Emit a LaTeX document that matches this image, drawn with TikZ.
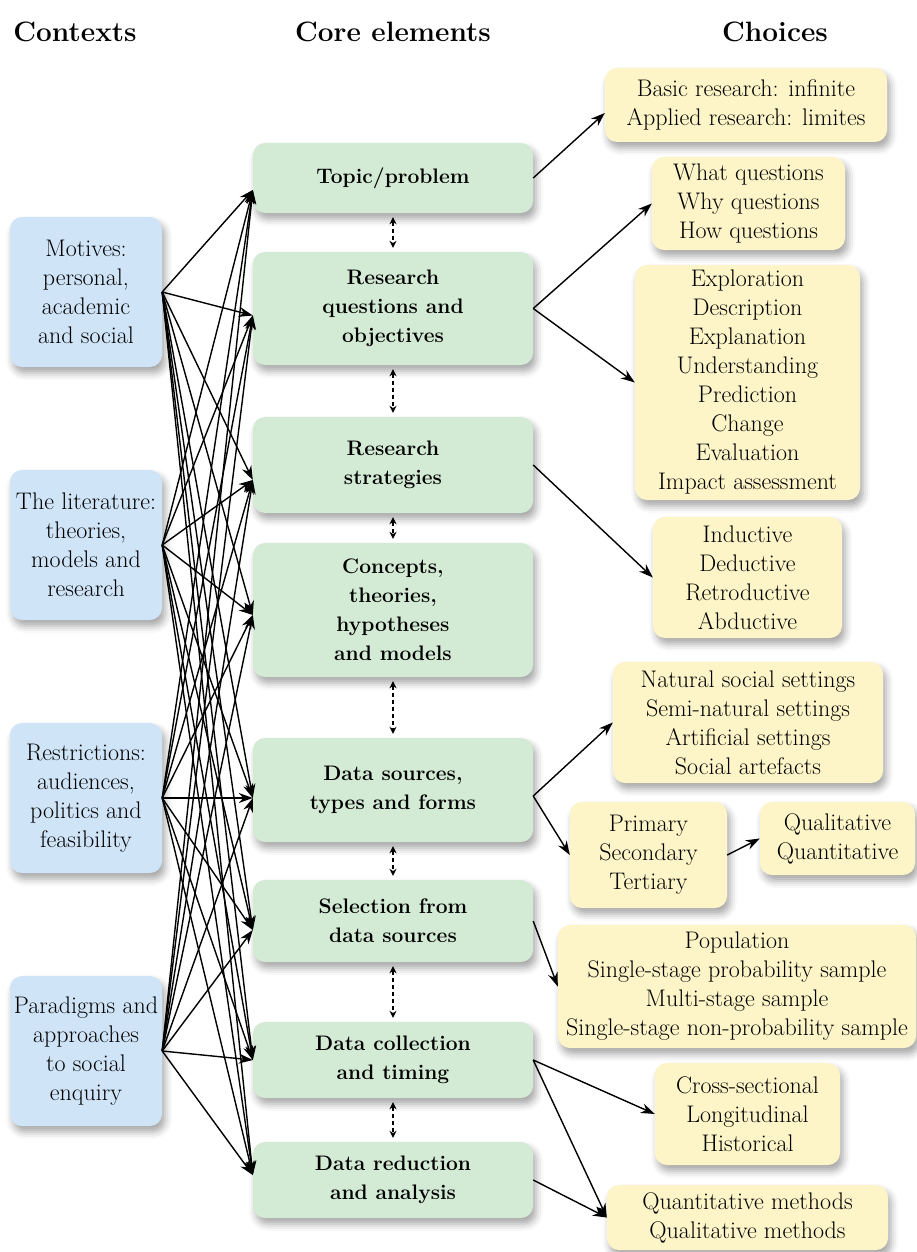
\documentclass[tikz,border=0pt]{standalone}
\usetikzlibrary{arrows.meta,shadows.blur,calc}
\definecolor{ctxblue}{RGB}{207,228,247}
\definecolor{coregreen}{RGB}{211,234,212}
\definecolor{choiceyellow}{RGB}{253,245,199}
\begin{document}
\begin{tikzpicture}[x=1pt,y=-1pt,
  box/.style={rounded corners=12pt, align=center, inner sep=0pt,
    font=\rmfamily\fontsize{24}{29}\selectfont,
    blur shadow={shadow xshift=3pt, shadow yshift=-6pt, shadow blur radius=7pt, shadow opacity=35}},
  ctx/.style={box, fill=ctxblue, minimum width=152pt, minimum height=150pt},
  core/.style={box, fill=coregreen, minimum width=280pt, font=\rmfamily\bfseries\fontsize{21}{29}\selectfont},
  choice/.style={box, fill=choiceyellow},
  hdr/.style={font=\rmfamily\bfseries\fontsize{28}{34}\selectfont},
  arr/.style={-{Stealth[length=14pt,width=10pt]}, line width=1.4pt},
  darr/.style={{Stealth[length=7pt,width=7pt]}-{Stealth[length=7pt,width=7pt]}, line width=1.2pt, dash pattern=on 4pt off 3pt, shorten >=4pt, shorten <=4pt}
]
\useasboundingbox (0,0) rectangle (916,1252);

% headers
\node[hdr] (h1) at (75,32) {Contexts};
\node[hdr] (h2) at (393,32) {Core elements};
\node[hdr] (h3) at (775,32) {Choices};

% contexts
\node[ctx] (m) at (86,292) {Motives:\\personal,\\academic\\and social};
\node[ctx] (l) at (86,545) {The literature:\\theories,\\models and\\research};
\node[ctx] (r) at (86,798) {Restrictions:\\audiences,\\politics and\\feasibility};
\node[ctx] (p) at (86,1051) {Paradigms and\\approaches\\to social\\enquiry};

% core elements
\node[core, minimum height=70pt] (c1) at (393,178) {Topic/problem};
\node[core, minimum height=113pt] (c2) at (393,308.5) {Research\\questions and\\objectives};
\node[core, minimum height=96pt] (c3) at (393,465) {Research\\strategies};
\node[core, minimum height=134pt] (c4) at (393,610) {Concepts,\\theories,\\hypotheses\\and models};
\node[core, minimum height=104pt] (c5) at (393,790) {Data sources,\\types and forms};
\node[core, minimum height=82pt] (c6) at (393,921) {Selection from\\data sources};
\node[core, minimum height=76pt] (c7) at (393,1060) {Data collection\\and timing};
\node[core, minimum height=76pt] (c8) at (393,1180) {Data reduction\\and analysis};

% choices
\node[choice, minimum width=282pt, minimum height=74pt] (A) at (746,105) {Basic research: infinite\\Applied research: limites};
\node[choice, minimum width=193pt, minimum height=93pt] (B) at (748.5,203.5) {What questions\\Why questions\\How questions};
\node[choice, minimum width=225pt, minimum height=235pt] (C) at (747.5,382.5) {Exploration\\Description\\Explanation\\Understanding\\Prediction\\Change\\Evaluation\\Impact assessment};
\node[choice, minimum width=189pt, minimum height=121pt] (D) at (747.5,577.5) {Inductive\\Deductive\\Retroductive\\Abductive};
\node[choice, minimum width=270pt, minimum height=121pt] (E) at (748,722.5) {Natural social settings\\Semi-natural settings\\Artificial settings\\Social artefacts};
\node[choice, minimum width=157pt, minimum height=106pt] (F) at (648.5,855) {Primary\\Secondary\\Tertiary};
\node[choice, minimum width=155pt, minimum height=73pt] (G) at (837.5,838.5) {Qualitative\\Quantitative};
\node[choice, minimum width=358pt, minimum height=123pt] (H) at (737,986.5) {Population\\Single-stage probability sample\\Multi-stage sample\\Single-stage non-probability sample};
\node[choice, minimum width=185pt, minimum height=102pt] (I) at (747.5,1114) {Cross-sectional\\Longitudinal\\Historical};
\node[choice, minimum width=281pt, minimum height=65pt] (J) at (747.5,1217.5) {Quantitative methods\\Qualitative methods};

% target points on the core boxes
\coordinate (t1) at ($(c1.west)+(0,12)$);
\coordinate (t2) at ($(c2.west)+(0,7)$);
\coordinate (t3) at ($(c3.west)+(0,15)$);
\coordinate (t4) at ($(c4.west)+(0,5)$);
\coordinate (t5) at ($(c5.west)+(0,8)$);
\coordinate (t6) at ($(c6.west)+(0,9)$);
\coordinate (t7) at ($(c7.west)+(0,0)$);
\coordinate (t8) at ($(c8.west)+(0,-5)$);

% context -> core arrows
\foreach \s in {m,l,r,p}{
  \foreach \t in {1,...,8}{
    \draw[arr] (\s.east) -- (t\t);
  }
}

% dashed links between core elements
\draw[darr] (c1.south) -- (c2.north);
\draw[darr] (c2.south) -- (c3.north);
\draw[darr] (c3.south) -- (c4.north);
\draw[darr] (c4.south) -- (c5.north);
\draw[darr] (c5.south) -- (c6.north);
\draw[darr] (c6.south) -- (c7.north);
\draw[darr] (c7.south) -- (c8.north);

% core -> choices
\draw[arr] (c1.east) -- ($(A.west)+(0,8)$);
\draw[arr] (c2.east) -- (B.west);
\draw[arr] (c2.east) -- (C.west);
\draw[arr] (c3.east) -- (D.west);
\draw[arr] ($(c5.east)+(0,6)$) -- (E.west);
\draw[arr] ($(c5.east)+(0,6)$) -- (F.west);
\draw[arr] (F.east) -- (G.west);
\draw[arr] (c6.east) -- (H.west);
\draw[arr] (c7.east) -- (I.west);
\draw[arr] (c7.east) -- (J.west);
\draw[arr] (c8.east) -- (J.west);
\end{tikzpicture}
\end{document}
